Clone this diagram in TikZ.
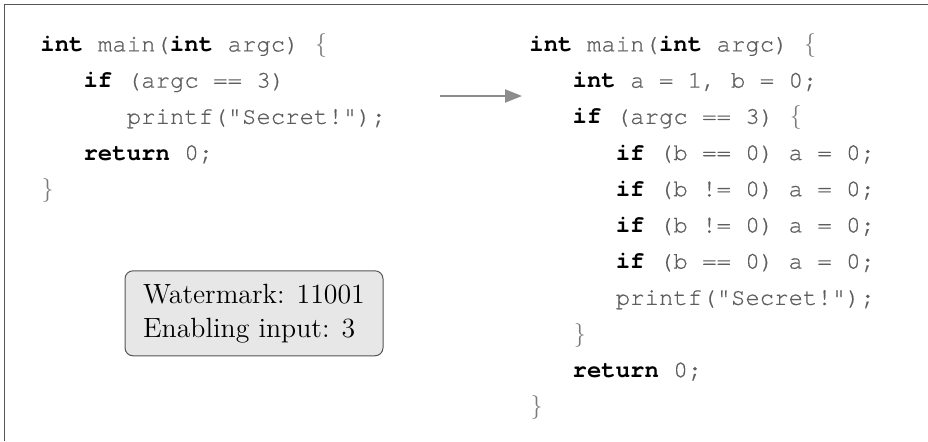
\documentclass[tikz,border=0pt]{standalone}
\usepackage{fontspec}
\setmonofont{TeX Gyre Cursor}[UprightFeatures={FakeBold=0.6}]
\usetikzlibrary{arrows.meta}

\definecolor{codegray}{HTML}{5E5E5E}
\definecolor{bracegray}{HTML}{7A7A7A}
\definecolor{boxfill}{HTML}{E7E7E7}
\definecolor{framegray}{HTML}{555555}
\definecolor{arrowgray}{HTML}{8C8C8C}

\newcommand{\kw}[1]{{\color{black}\bfseries #1}}
\newcommand{\ci}{\hspace*{21.6pt}}
\newcommand{\lb}{{\color{bracegray}\makebox[7.2pt]{$\{$}}}
\newcommand{\rb}{{\color{bracegray}\makebox[7.2pt]{$\}$}}}

\begin{document}
\begin{tikzpicture}[
  x=0.5pt, y=-0.5pt,
  code/.style={anchor=north west, inner sep=0pt, align=left, text=codegray,
    font=\fontsize{12}{18.1}\selectfont\ttfamily},
  info/.style={draw=framegray, fill=boxfill, rounded corners=4pt, align=left,
    minimum width=129pt, minimum height=42.5pt, line width=0.5pt,
    font=\fontsize{13.9}{17}\selectfont},
  arrow/.style={-{Triangle[length=8.5pt,width=6.5pt]}, line width=1pt, draw=arrowgray},
  frame/.style={draw=framegray, line width=0.8pt}
]
\useasboundingbox (0,0) rectangle (928,441);

% Outer frame (only top and left edges show)
\draw[frame] (4.5,441) -- (4.5,4.5) -- (928,4.5);

% Left: original program
\node[code] (orig) at (40,33) {%
\kw{int} main(\kw{int} argc) \lb\\
\ci\kw{if} (argc == 3)\\
\ci\ci printf("Secret!");\\
\ci\kw{return} 0;\\
\rb};

% Right: watermarked program
\node[code] (marked) at (529,33) {%
\kw{int} main(\kw{int} argc) \lb\\
\ci\kw{int} a = 1, b = 0;\\
\ci\kw{if} (argc == 3) \lb\\
\ci\ci\kw{if} (b == 0) a = 0;\\
\ci\ci\kw{if} (b != 0) a = 0;\\
\ci\ci\kw{if} (b != 0) a = 0;\\
\ci\ci\kw{if} (b == 0) a = 0;\\
\ci\ci printf("Secret!");\\
\ci\rb\\
\ci\kw{return} 0;\\
\rb};

% Transformation arrow
\coordinate (arrowrow) at (0,96);
\draw[arrow, shorten <=27pt, shorten >=3.5pt] (orig.east |- arrowrow) -- (marked.west |- arrowrow);

% Watermark note
\node[info] (note) at (254,313.3) {Watermark: 11001\\Enabling input: 3};

\end{tikzpicture}
\end{document}
